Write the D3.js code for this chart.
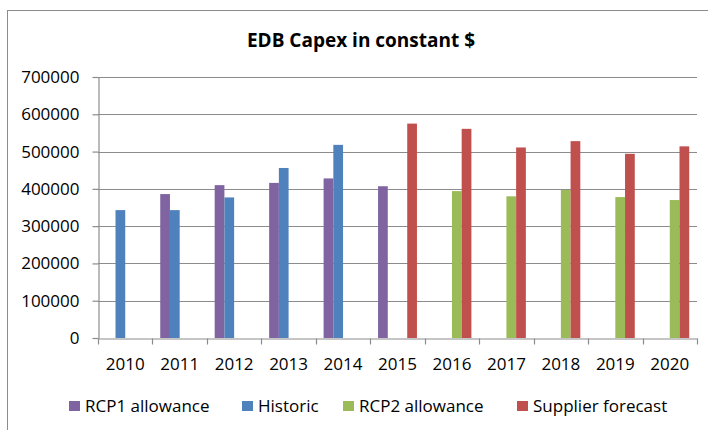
<!DOCTYPE html>
<html>
<head>
<meta charset="utf-8">
<script src="https://cdn.jsdelivr.net/npm/d3@7"></script>
<style>
  html, body { margin: 0; padding: 0; background: #fff; }
  svg { display: block; font-family: "Open Sans", "Liberation Sans", sans-serif; }
</style>
</head>
<body>
<svg id="chart" width="708" height="430"></svg>
<script>
// Capital expenditure by year, four series
const years = ["2010", "2011", "2012", "2013", "2014", "2015", "2016", "2017", "2018", "2019", "2020"];
const seriesNames = ["RCP1 allowance", "Historic", "RCP2 allowance", "Supplier forecast"];
const seriesColors = ["#8064A2", "#4F81BD", "#9BBB59", "#C0504D"];
const rcp1Allowance = [null, 386000, 410000, 416000, 428000, 407000, null, null, null, null, null];
const historic = [343000, 343000, 377000, 456000, 518000, null, null, null, null, null, null];
const rcp2Allowance = [null, null, null, null, null, null, 394000, 380000, 397000, 378000, 370000];
const supplierForecast = [null, null, null, null, null, 575000, 561000, 511000, 528000, 494000, 514000];
const yTicks = [0, 100000, 200000, 300000, 400000, 500000, 600000, 700000];
const chartTitle = "EDB Capex in constant $";

const seriesValues = [rcp1Allowance, historic, rcp2Allowance, supplierForecast];

const svg = d3.select("#chart");
const plot = { left: 98, right: 697, top: 77, bottom: 338 };

// Outer chart frame
svg.append("rect")
  .attr("x", 7.5).attr("y", 10.5)
  .attr("width", 720).attr("height", 440)
  .attr("fill", "none").attr("stroke", "#8c8c8c").attr("stroke-width", 1);

svg.append("text")
  .attr("x", 361).attr("y", 47)
  .attr("text-anchor", "middle")
  .attr("font-size", 19).attr("font-weight", 700)
  .attr("fill", "#000")
  .text(chartTitle);

const x0 = d3.scaleBand().domain(years).range([plot.left, plot.right]).padding(0);
const bw = x0.bandwidth();
const groupWidth = bw * 4 / 5.6;
const x1 = d3.scaleBand().domain(d3.range(4))
  .range([(bw - groupWidth) / 2, (bw + groupWidth) / 2]).padding(0);

const y = d3.scaleLinear().domain([0, 700000]).range([plot.bottom, plot.top]);

// Horizontal gridlines
svg.append("g").selectAll("line").data(yTicks.filter(d => d > 0)).join("line")
  .attr("x1", plot.left).attr("x2", plot.right)
  .attr("y1", d => Math.round(y(d)) + 0.5).attr("y2", d => Math.round(y(d)) + 0.5)
  .attr("stroke", "#8c8c8c").attr("stroke-width", 1.2);

// Bars
const barData = [];
seriesValues.forEach((vals, s) => {
  vals.forEach((v, i) => {
    if (v != null) barData.push({ year: years[i], s, v });
  });
});
svg.append("g").selectAll("rect").data(barData).join("rect")
  .attr("x", d => x0(d.year) + x1(d.s))
  .attr("width", x1.bandwidth())
  .attr("y", d => y(d.v))
  .attr("height", d => y(0) - y(d.v))
  .attr("fill", d => seriesColors[d.s]);

// Y axis
const yAxis = d3.axisLeft(y).tickValues(yTicks).tickFormat(d3.format("d")).tickSizeInner(6).tickSizeOuter(0).tickPadding(13);
const gy = svg.append("g").attr("transform", `translate(${plot.left + 0.5},0)`).call(yAxis);
gy.select(".domain").attr("stroke", "#8c8c8c").attr("stroke-width", 1.2);
gy.selectAll(".tick line").attr("stroke", "#8c8c8c").attr("stroke-width", 1.2);
gy.selectAll(".tick text").attr("font-size", 17).attr("fill", "#000")
  .attr("font-family", "'Open Sans', sans-serif");

// X axis: ticks sit on category boundaries
const xAxis = d3.axisBottom(x0).tickSize(0).tickPadding(19);
const gx = svg.append("g").attr("transform", `translate(0,${plot.bottom + 0.5})`).call(xAxis);
gx.select(".domain").attr("stroke", "#8c8c8c").attr("stroke-width", 1.2);
gx.selectAll(".tick text").attr("font-size", 17).attr("fill", "#000")
  .attr("font-family", "'Open Sans', sans-serif");
gx.append("g").selectAll("line").data(years.concat(["end"])).join("line")
  .attr("x1", (d, i) => Math.round(plot.left + i * bw) + 0.5)
  .attr("x2", (d, i) => Math.round(plot.left + i * bw) + 0.5)
  .attr("y1", 0).attr("y2", 6)
  .attr("stroke", "#8c8c8c").attr("stroke-width", 1.2);

// Legend
const legendX = [69, 242, 343, 517];
const legend = svg.append("g").selectAll("g").data(seriesNames).join("g")
  .attr("transform", (d, i) => `translate(${legendX[i]},406)`);
legend.append("rect").attr("x", 0).attr("y", -5).attr("width", 11).attr("height", 10)
  .attr("fill", (d, i) => seriesColors[i]);
legend.append("text").attr("x", 16).attr("y", 0).attr("dy", "0.35em")
  .attr("font-size", 17).attr("fill", "#000").text(d => d);
</script>
</body>
</html>
